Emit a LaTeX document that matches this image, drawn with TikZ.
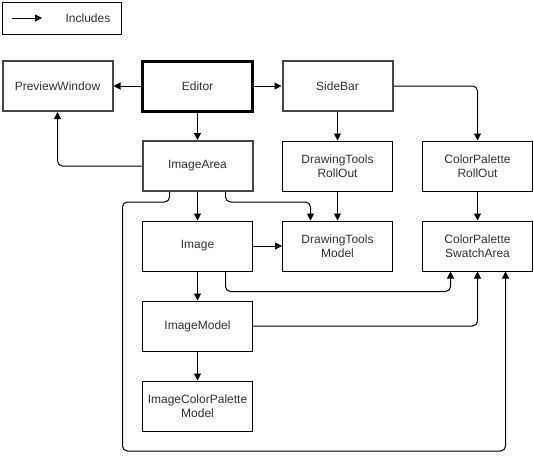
\documentclass[tikz,border=0pt]{standalone}
\usepackage{fontspec}
\setmainfont{Liberation Sans}
\usepackage{tikz}
\usetikzlibrary{arrows.meta,positioning}

\begin{document}
\begin{tikzpicture}[x=1pt,y=1pt,font=\fontsize{12}{14}\selectfont,
   text=black!80,on grid,node distance=80pt and 140pt,
   cls/.style={draw,line width=1pt,minimum width=110pt,minimum height=50pt,
               inner sep=1pt,align=center},
   grp/.style={cls,line width=2pt,draw=black!72},
   top/.style={cls,line width=3pt,draw=black},
   inc/.style={-{Triangle[length=7pt,width=7pt]},line width=1pt,rounded corners=5pt}]
  \useasboundingbox (0,0) rectangle (534,-461);
  % legend
  \node[draw,line width=1pt,minimum width=119pt,minimum height=32pt] (leg) at (62,-18.5) {};
  \coordinate (la) at (12,-18);
  \coordinate (lb) at (42,-18);
  \draw[inc] (la) -- (lb);
  \node (lt) at (88,-18) {Includes};
  % nodes
  \node[top] (ed) at (197.5,-86) {Editor};
  \node[grp,left=of ed] (pw) {PreviewWindow};
  \node[grp,right=of ed] (sb) {SideBar};
  \node[grp,below=of ed] (ia) {ImageArea};
  \node[cls,below=of sb] (dtr) {DrawingTools\\RollOut};
  \node[cls,right=of dtr] (cpr) {ColorPalette\\RollOut};
  \node[cls,below=of ia] (im) {Image};
  \node[cls,below=of dtr] (dtm) {DrawingTools\\Model};
  \node[cls,below=of cpr] (cps) {ColorPalette\\SwatchArea};
  \node[cls,below=of im] (imm) {ImageModel};
  \node[cls,below=of imm] (icp) {ImageColorPalette\\Model};
  % includes
  \draw[inc] (ed) -- (pw);
  \draw[inc] (ed) -- (sb);
  \draw[inc] (ed) -- (ia);
  \draw[inc] (ia.west) -| (pw.south);
  \draw[inc] (sb) -- (dtr);
  \draw[inc] (sb.east) -| (cpr.north);
  \draw[inc] (cpr) -- (cps);
  \draw[inc] (dtr) -- (dtm);
  \draw[inc] (ia) -- (im);
  \draw[inc] ([xshift=28pt]ia.south) -- ++(0,-10) -| ([xshift=-27pt]dtm.north);
  \draw[inc] ([xshift=-28pt]ia.south) -- ++(0,-10) -- ++(-47,0) -- ++(0,-249)
     -| ([xshift=28pt]cps.south);
  \draw[inc] (im) -- (dtm);
  \draw[inc] ([xshift=28pt]im.south) -- ++(0,-20) -| ([xshift=-27pt]cps.south);
  \draw[inc] (im) -- (imm);
  \draw[inc] (imm.east) -| (cps.south);
  \draw[inc] (imm) -- (icp);
\end{tikzpicture}
\end{document}
